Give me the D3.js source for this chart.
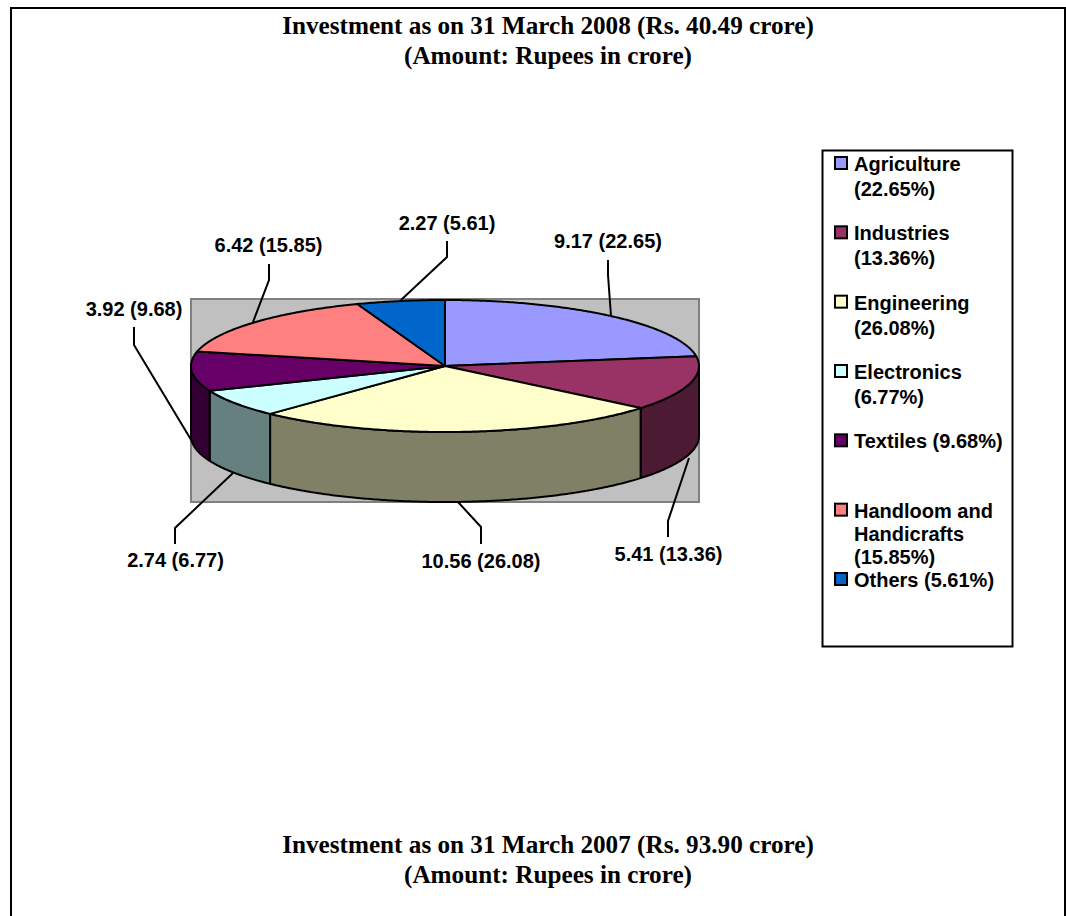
<!doctype html>
<html lang="en">
<head>
  <meta charset="utf-8">
  <title>Investment pie chart</title>
  <script src="https://d3js.org/d3.v7.min.js"></script>
  <style>
    html, body { margin: 0; padding: 0; background: #fff; overflow: hidden; }
    svg { display: block; }
    .title { font-family: "Liberation Serif", serif; font-weight: bold; font-size: 25.2px; text-anchor: middle; }
    .lbl { font-family: "Liberation Sans", sans-serif; font-weight: bold; font-size: 20px; }
  </style>
</head>
<body>
  <div id="my_chart"></div>
<script>
  const categories = ["Agriculture", "Industries", "Engineering", "Electronics", "Textiles", "Handloom and Handicrafts", "Others"];
  const amounts = [9.17, 5.41, 10.56, 2.74, 3.92, 6.42, 2.27];
  const percents = [22.65, 13.36, 26.08, 6.77, 9.68, 15.85, 5.61];
  const top_colors = ["#9999FF", "#993366", "#FFFFCC", "#CCFFFF", "#660066", "#FF8080", "#0066CC"];
  const side_colors = ["#4D4D80", "#4D1A33", "#808066", "#668080", "#330033", "#804040", "#003366"];
  const legend_lines = [
    ["Agriculture", "(22.65%)"],
    ["Industries", "(13.36%)"],
    ["Engineering", "(26.08%)"],
    ["Electronics", "(6.77%)"],
    ["Textiles (9.68%)"],
    ["Handloom and", "Handicrafts", "(15.85%)"],
    ["Others (5.61%)"]
  ];
  const titles_top = ["Investment as on 31 March 2008 (Rs. 40.49 crore)", "(Amount: Rupees in crore)"];
  const titles_bottom = ["Investment as on 31 March 2007 (Rs. 93.90 crore)", "(Amount: Rupees in crore)"];

  const width = 1066;
  const height = 916;
  const depth = 70;
  const plot = {left: 191, right: 699, top: 299, bottom: 502};

  // callout text anchor + leader line, one per slice
  const callouts = [
    {tx: 608, ty: 248, pts: [[608, 260], [608, 275], [611, 316]]},
    {tx: 668.5, ty: 561, pts: [[668, 537], [668, 521], [689, 458]]},
    {tx: 481, ty: 568, pts: [[481, 544], [481, 527], [458, 502]]},
    {tx: 175.5, ty: 567, pts: [[175, 544], [175, 528], [233, 473]]},
    {tx: 134, ty: 316, pts: [[134, 327], [134, 345], [193, 443]]},
    {tx: 268.5, ty: 252, pts: [[269, 264], [269, 280], [253, 322]]},
    {tx: 447, ty: 230, pts: [[447, 241], [447, 257], [401, 300]]}
  ];

  const svg = d3.select('#my_chart').append('svg')
    .attr('width', width)
    .attr('height', height);

  // outer frame runs off the bottom of the page
  svg.append('path')
    .attr('d', 'M11,' + height + 'V8H1065V' + height)
    .attr('fill', 'none')
    .attr('stroke', '#000')
    .attr('stroke-width', 2);

  function add_title(lines, y0) {
    svg.selectAll(null).data(lines).enter().append('text')
      .attr('class', 'title')
      .attr('x', 548)
      .attr('y', (d, i) => y0 + i * 30.5)
      .text((d) => d);
  }
  add_title(titles_top, 33.5);
  add_title(titles_bottom, 852.5);

  // plot area
  svg.append('rect')
    .attr('x', plot.left)
    .attr('y', plot.top)
    .attr('width', plot.right - plot.left)
    .attr('height', plot.bottom - plot.top)
    .attr('fill', '#C0C0C0')
    .attr('stroke', '#808080')
    .attr('stroke-width', 2);

  // pie angles from d3, then squashed onto an ellipse
  const arcs = d3.pie().sort(null).value((d) => d)(percents);
  const px = d3.scaleLinear().domain([-1, 1]).range([plot.left, plot.right]);
  const py = d3.scaleLinear().domain([-1, 1]).range([300, 432]);
  const line = d3.line().curve(d3.curveLinear);

  function rim(a0, a1, dy) {
    const n = Math.max(2, Math.ceil(Math.abs(a1 - a0) / 0.01));
    return d3.range(n + 1).map((i) => {
      const a = a0 + (a1 - a0) * i / n;
      return [px(Math.sin(a)), py(-Math.cos(a)) + dy];
    });
  }

  // side walls, only the front half of the rim shows
  arcs.forEach((d, i) => {
    const a0 = Math.max(d.startAngle, Math.PI / 2);
    const a1 = Math.min(d.endAngle, Math.PI * 1.5);
    if (a1 <= a0) return;
    const pts = rim(a0, a1, 0).concat(rim(a1, a0, depth));
    svg.append('path')
      .attr('d', line(pts) + 'Z')
      .attr('fill', side_colors[i])
      .attr('stroke', '#000')
      .attr('stroke-width', 2)
      .attr('stroke-linejoin', 'round');
  });

  // top faces
  svg.selectAll('.slice').data(arcs).enter().append('path')
    .attr('class', 'slice')
    .attr('d', (d) => line([[px(0), py(0)]].concat(rim(d.startAngle, d.endAngle, 0))) + 'Z')
    .attr('fill', (d, i) => top_colors[i])
    .attr('stroke', '#000')
    .attr('stroke-width', 2)
    .attr('stroke-linejoin', 'round');

  // callouts
  svg.selectAll('.leader').data(callouts).enter().append('path')
    .attr('class', 'leader')
    .attr('d', (d) => line(d.pts))
    .attr('fill', 'none')
    .attr('stroke', '#000')
    .attr('stroke-width', 2);
  svg.selectAll('.callout').data(callouts).enter().append('text')
    .attr('class', 'lbl')
    .attr('x', (d) => d.tx)
    .attr('y', (d) => d.ty)
    .attr('text-anchor', 'middle')
    .text((d, i) => amounts[i].toFixed(2) + ' (' + percents[i].toFixed(2) + ')');

  // legend
  svg.append('rect')
    .attr('x', 822.5)
    .attr('y', 150.5)
    .attr('width', 190)
    .attr('height', 496)
    .attr('fill', '#fff')
    .attr('stroke', '#000')
    .attr('stroke-width', 2);
  const legend_y = d3.scalePoint().domain(categories).range([157, 573]);
  const legend = svg.selectAll('.legend').data(categories).enter().append('g')
    .attr('class', 'legend')
    .attr('transform', (d) => 'translate(835,' + legend_y(d) + ')');
  legend.append('rect')
    .attr('width', 12)
    .attr('height', 12)
    .attr('fill', (d, i) => top_colors[i])
    .attr('stroke', '#000')
    .attr('stroke-width', 2);
  // the three-line entry is set a little tighter so it clears the next one
  legend.selectAll('text').data((d, i) => legend_lines[i]).enter().append('text')
    .attr('class', 'lbl')
    .attr('x', 19)
    .attr('y', (d, i, nodes) => 14 + i * (nodes.length > 2 ? 23 : 25))
    .text((d) => d);
</script>
</body>
</html>
